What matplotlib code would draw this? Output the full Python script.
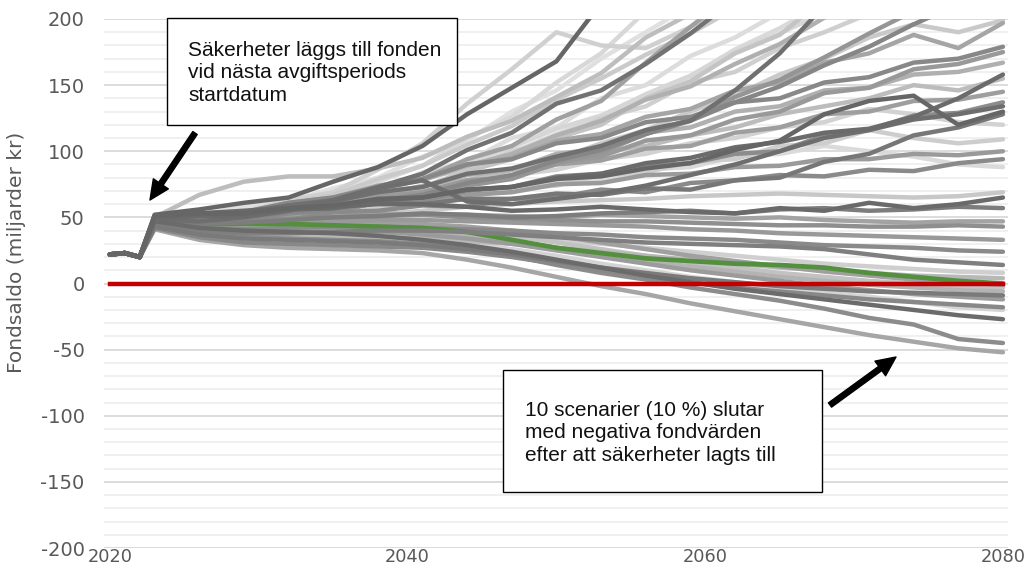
import matplotlib
matplotlib.use('Agg')
import matplotlib.pyplot as plt
from matplotlib.patches import Rectangle
from matplotlib.ticker import MultipleLocator

plt.rcParams['axes.unicode_minus'] = False

# Fondsaldo per scenario, miljarder kr
years = [2020, 2021, 2022, 2023, 2026, 2029, 2032, 2035, 2038, 2041, 2044, 2047,
         2050, 2053, 2056, 2059, 2062, 2065, 2068, 2071, 2074, 2077, 2080]

# scenarios that end below zero
paths_below_zero = [
    [22, 23, 20, 41, 33, 29, 27, 26, 25, 23, 18, 12, 5, -2, -8, -15, -21, -27, -33, -39, -44, -49, -52],
    [22, 23, 20, 44, 38, 35, 34, 33, 32, 30, 26, 21, 14, 8, 3, -3, -8, -13, -19, -26, -31, -42, -45],
    [22, 23, 20, 47, 42, 40, 39, 38, 36, 33, 29, 24, 18, 12, 6, 1, -4, -8, -12, -16, -20, -24, -27],
    [22, 23, 20, 45, 40, 38, 37, 36, 35, 33, 30, 26, 21, 15, 10, 5, 1, -3, -7, -10, -14, -18, -20],
    [22, 23, 20, 46, 42, 41, 41, 40, 39, 37, 34, 30, 25, 20, 15, 10, 6, 2, -2, -5, -8, -10, -12],
    [22, 23, 20, 48, 44, 43, 43, 42, 41, 39, 36, 32, 27, 22, 17, 13, 9, 5, 2, -1, -3, -5, -6],
    [22, 23, 20, 43, 37, 34, 33, 32, 31, 29, 26, 22, 17, 12, 8, 4, 1, -2, -4, -6, -7, -8, -9],
    [22, 23, 20, 49, 46, 45, 45, 44, 44, 42, 40, 36, 31, 26, 21, 16, 12, 8, 5, 2, 0, -2, -3],
    [22, 23, 20, 42, 35, 31, 30, 29, 28, 27, 24, 20, 15, 10, 5, 1, -3, -6, -9, -12, -14, -16, -18],
    [22, 23, 20, 50, 48, 47, 47, 46, 46, 45, 43, 40, 36, 31, 26, 21, 17, 13, 9, 6, 3, 1, -1],
]
shades_below_zero = ['#a6a6a6', '#8c8c8c', '#6b6b6b', '#d4d4d4', '#9b9b9b',
                     '#b3b3b3', '#7a7a7a', '#c2c2c2', '#888888', '#a0a0a0']

# scenarios that stay low but positive
paths_low = [
    [22, 23, 20, 44, 39, 37, 36, 36, 35, 34, 32, 30, 27, 24, 21, 18, 15, 12, 10, 8, 6, 5, 4],
    [22, 23, 20, 47, 43, 42, 42, 41, 41, 40, 38, 36, 33, 30, 27, 24, 21, 18, 15, 13, 11, 9, 8],
    [22, 23, 20, 45, 40, 38, 38, 39, 40, 40, 39, 37, 35, 33, 31, 30, 29, 28, 26, 22, 18, 16, 14],
    [22, 23, 20, 46, 42, 41, 42, 43, 43, 42, 41, 40, 38, 37, 35, 34, 33, 31, 29, 28, 27, 25, 24],
    [22, 23, 20, 48, 45, 45, 46, 47, 48, 48, 47, 46, 45, 44, 43, 41, 40, 38, 37, 36, 35, 34, 33],
    [22, 23, 20, 49, 47, 48, 49, 50, 51, 52, 50, 49, 48, 47, 47, 46, 45, 44, 44, 43, 43, 44, 43],
    [22, 23, 20, 50, 48, 49, 51, 52, 53, 52, 52, 51, 50, 52, 51, 50, 49, 50, 48, 47, 46, 47, 47],
    [22, 23, 20, 47, 45, 46, 48, 50, 51, 53, 52, 50, 51, 53, 54, 55, 53, 56, 57, 55, 56, 58, 57],
    [22, 23, 20, 51, 53, 55, 57, 58, 60, 60, 58, 55, 56, 58, 56, 54, 53, 57, 55, 61, 57, 60, 65],
    [22, 23, 20, 48, 46, 47, 48, 50, 52, 55, 58, 60, 62, 63, 64, 66, 67, 68, 67, 66, 65, 66, 69],
]
shades_low = ['#b8b8b8', '#cfcfcf', '#7f7f7f', '#8a8a8a', '#999999',
              '#8f8f8f', '#a3a3a3', '#7d7d7d', '#6a6a6a', '#c8c8c8']

# median scenario
path_median = [22, 23, 20, 46, 45, 45, 45, 44, 43, 42, 39, 33, 27, 23, 19, 17, 15, 14, 12, 8, 5, 2, 0]

# scenarios that grow but stay inside the axis
paths_rising = [
    [22, 23, 20, 47, 46, 49, 48, 54, 55, 59, 58, 64, 65, 71, 69, 76, 78, 82, 81, 86, 85, 91, 94],
    [22, 23, 20, 49, 50, 50, 54, 55, 61, 62, 67, 69, 75, 76, 82, 83, 88, 89, 94, 94, 98, 97, 100],
    [22, 23, 20, 46, 45, 49, 50, 56, 57, 63, 65, 72, 74, 82, 84, 92, 94, 104, 106, 116, 110, 106, 109],
    [22, 23, 20, 50, 52, 52, 56, 57, 61, 60, 64, 64, 68, 67, 72, 71, 78, 80, 92, 98, 112, 118, 128],
    [22, 23, 20, 51, 53, 53, 57, 59, 64, 65, 71, 73, 79, 81, 87, 91, 101, 108, 128, 138, 142, 120, 130],
    [22, 23, 20, 47, 48, 48, 53, 55, 61, 63, 70, 73, 81, 83, 89, 91, 98, 100, 112, 116, 127, 129, 137],
    [22, 23, 20, 48, 50, 51, 57, 59, 66, 69, 77, 81, 90, 93, 102, 104, 114, 118, 128, 130, 138, 139, 145],
    [22, 23, 20, 49, 51, 51, 56, 57, 63, 65, 71, 73, 80, 83, 91, 95, 103, 107, 114, 117, 126, 140, 158],
    [22, 23, 20, 48, 50, 51, 58, 61, 69, 73, 82, 86, 98, 102, 114, 118, 130, 134, 146, 148, 158, 160, 167],
    [22, 23, 20, 46, 48, 49, 55, 58, 65, 69, 78, 80, 92, 96, 108, 112, 124, 130, 144, 148, 162, 166, 175],
    [22, 23, 20, 50, 53, 54, 61, 65, 73, 79, 90, 94, 106, 110, 122, 126, 137, 140, 152, 156, 167, 170, 179],
    [22, 23, 20, 49, 52, 54, 61, 65, 74, 79, 90, 95, 108, 113, 126, 132, 146, 152, 167, 174, 188, 178, 197],
    [22, 23, 20, 47, 49, 52, 54, 60, 62, 70, 74, 82, 86, 94, 98, 106, 110, 118, 122, 132, 128, 122, 120],
    [22, 23, 20, 45, 46, 47, 50, 53, 58, 60, 66, 70, 76, 78, 86, 88, 96, 98, 104, 100, 96, 90, 88],
    [22, 23, 20, 48, 50, 52, 56, 62, 66, 74, 78, 86, 90, 100, 104, 112, 118, 128, 134, 140, 150, 146, 155],
    [22, 23, 20, 46, 46, 50, 52, 58, 62, 70, 76, 86, 94, 106, 116, 130, 142, 158, 170, 186, 196, 190, 199],
]
shades_rising = ['#8a8a8a', '#9a9a9a', '#cdcdcd', '#777777', '#666666', '#8c8c8c',
                 '#9e9e9e', '#6b6b6b', '#b0b0b0', '#999999', '#888888', '#a5a5a5',
                 '#d2d2d2', '#dadada', '#bcbcbc', '#c9c9c9']

# scenarios that leave the top of the axis
paths_above = [
    [22, 23, 20, 45, 49, 54, 63, 69, 86, 106, 136, 162, 190, 180, 178, 194, 215, 235, 250, 265, 280, 290, 300],
    [22, 23, 20, 52, 56, 61, 65, 77, 88, 104, 128, 148, 168, 212, 240, 260, 280, 300, 320, 330, 340, 350, 360],
    [22, 23, 20, 46, 48, 51, 59, 65, 77, 89, 110, 126, 152, 174, 206, 230, 250, 270, 290, 300, 310, 320, 330],
    [22, 23, 20, 47, 49, 51, 57, 61, 71, 79, 94, 104, 124, 138, 167, 194, 220, 240, 260, 280, 300, 310, 320],
    [22, 23, 20, 50, 53, 54, 59, 62, 69, 73, 83, 87, 96, 104, 116, 123, 146, 174, 210, 230, 250, 260, 270],
    [22, 23, 20, 49, 52, 53, 59, 63, 73, 83, 101, 114, 136, 146, 166, 189, 215, 235, 255, 275, 290, 300, 310],
    [22, 23, 20, 47, 49, 50, 56, 59, 67, 73, 85, 94, 110, 120, 140, 153, 174, 188, 215, 235, 255, 270, 285],
    [22, 23, 20, 46, 48, 48, 53, 55, 61, 65, 74, 79, 91, 99, 113, 124, 141, 154, 171, 189, 206, 220, 235],
    [22, 23, 20, 48, 51, 53, 60, 64, 73, 79, 91, 99, 113, 125, 143, 157, 177, 193, 212, 230, 245, 260, 275],
    [22, 23, 20, 47, 50, 52, 59, 63, 72, 78, 89, 98, 112, 123, 139, 149, 166, 181, 201, 220, 240, 255, 270],
    [22, 23, 20, 48, 49, 49, 54, 56, 63, 67, 76, 82, 93, 101, 113, 123, 137, 149, 165, 179, 196, 211, 230],
    [22, 23, 20, 46, 50, 53, 61, 67, 79, 89, 105, 119, 139, 155, 173, 189, 208, 225, 240, 255, 270, 285, 300],
    [22, 23, 20, 50, 67, 77, 81, 81, 87, 95, 111, 123, 141, 159, 186, 204, 225, 245, 260, 275, 290, 300, 310],
    [22, 23, 20, 43, 41, 42, 52, 61, 73, 81, 93, 103, 117, 127, 143, 157, 175, 189, 205, 220, 235, 250, 265],
    [22, 23, 20, 48, 47, 50, 55, 63, 72, 78, 62, 60, 64, 68, 74, 82, 90, 100, 110, 116, 124, 128, 134],
    [22, 23, 20, 47, 50, 55, 57, 66, 70, 84, 92, 110, 118, 140, 150, 172, 186, 205, 220, 240, 250, 260, 270],
    [22, 23, 20, 45, 47, 52, 55, 63, 68, 80, 86, 100, 108, 125, 134, 152, 160, 178, 190, 204, 220, 230, 240],
    [22, 23, 20, 48, 52, 58, 62, 72, 80, 96, 108, 130, 146, 170, 190, 210, 230, 240, 250, 260, 270, 280, 290],
]
shades_above = ['#d0d0d0', '#666666', '#d8d8d8', '#a0a0a0', '#707070', '#727272', '#c4c4c4', '#959595',
                '#d9d9d9', '#b0b0b0', '#868686', '#cacaca', '#bdbdbd', '#d6d6d6', '#6e6e6e',
                '#dcdcdc', '#cfcfcf', '#e0e0e0']

note_top = 'Säkerheter läggs till fonden\nvid nästa avgiftsperiods\nstartdatum'
note_bottom = '10 scenarier (10 %) slutar\nmed negativa fondvärden\nefter att säkerheter lagts till'

W, H = 1025, 582
fig = plt.figure(figsize=(W / 100, H / 100), dpi=100)
ax = fig.add_axes([104 / W, 1 - 548 / H, (1008 - 104) / W, (548 - 19) / H])


def draw(paths, shades):
    # darker scenarios sit on top of lighter ones
    for vals, c in zip(paths, shades):
        light = int(c[1:3], 16) / 255
        ax.plot(years, vals, color=c, lw=3.2, solid_capstyle='round',
                solid_joinstyle='round', zorder=3 - light)


draw(paths_below_zero, shades_below_zero)
draw(paths_low, shades_low)
draw(paths_rising, shades_rising)
draw(paths_above, shades_above)
ax.plot(years, path_median, color='#548f3f', lw=3.4, solid_capstyle='round', zorder=2.47)
ax.plot([years[0], years[-1]], [0, 0], color='#c00000', lw=3.2, zorder=5)

ax.set_xlim(2019.6, 2080.34)
ax.set_ylim(-200, 200)
ax.set_xticks([2020, 2040, 2060, 2080])
ax.yaxis.set_major_locator(MultipleLocator(50))
ax.yaxis.set_minor_locator(MultipleLocator(10))
ax.grid(which='minor', axis='y', color='#efefef', lw=1.3)
ax.grid(which='major', axis='y', color='#d9d9d9', lw=1.3)
ax.grid(axis='x', visible=False)
ax.set_axisbelow(True)
for sp in ax.spines.values():
    sp.set_visible(False)
ax.tick_params(which='both', length=0)
ax.tick_params(axis='y', pad=14, labelsize=14, labelcolor='#595959')
ax.tick_params(axis='x', pad=0, labelsize=12.8, labelcolor='#595959')

fig.text(17 / W, 1 - 252 / H, 'Fondsaldo (miljarder kr)', rotation=90,
         ha='center', va='center', fontsize=14.5, color='#595959')


def note_box(x0, y0, x1, y1, tx, ty, text):
    fig.add_artist(Rectangle((x0 / W, 1 - y1 / H), (x1 - x0) / W, (y1 - y0) / H,
                             transform=fig.transFigure, facecolor='white',
                             edgecolor='black', lw=1, zorder=10))
    fig.text(tx / W, 1 - ty / H, text, ha='left', va='center', fontsize=15,
             family='Liberation Sans', linespacing=1.25, color='#111111', zorder=11)


note_box(167, 18, 457, 125, 188, 73, note_top)
note_box(503, 370, 822, 492, 525, 433, note_bottom)


def arrow(x_tail, y_tail, x_head, y_head):
    ax.annotate('', xy=(x_head, H - y_head), xycoords='figure pixels',
                xytext=(x_tail, H - y_tail), textcoords='figure pixels',
                arrowprops=dict(arrowstyle='simple,head_width=1.3,head_length=1.4,tail_width=0.38',
                                mutation_scale=10, color='black', shrinkA=0, shrinkB=0),
                annotation_clip=False, zorder=12)


arrow(195, 133, 150, 200)
arrow(830, 405, 896, 357)

fig.savefig('out.png', dpi=100)
